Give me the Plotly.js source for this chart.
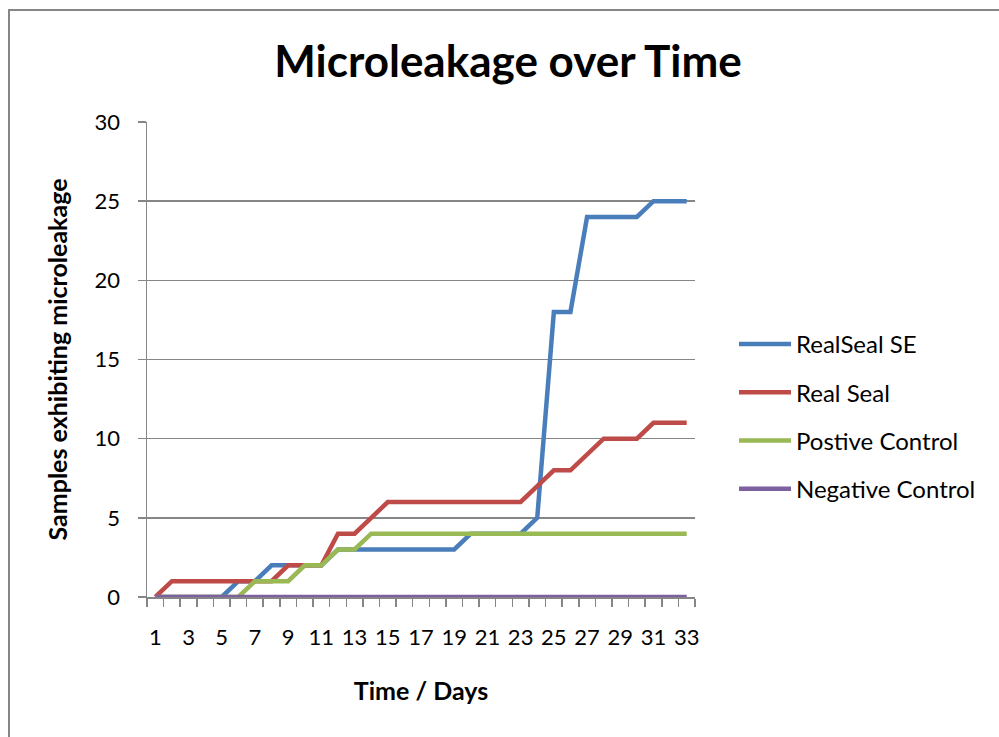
<!DOCTYPE html>
<html>
<head>
<meta charset="utf-8">
<script src="https://cdn.plot.ly/plotly-3.0.1.min.js"></script>
<style>
html, body { margin:0; padding:0; width:999px; height:737px; overflow:hidden; background:#fff; }
#frame { position:absolute; left:8px; top:9px; width:1100px; height:900px; border:2px solid #868686; box-sizing:border-box; }
#chart { position:absolute; left:0; top:0; width:999px; height:737px; }
</style>
</head>
<body>
<div id="frame"></div>
<div id="chart"></div>
<script>
const days = [1,2,3,4,5,6,7,8,9,10,11,12,13,14,15,16,17,18,19,20,21,22,23,24,25,26,27,28,29,30,31,32,33];
const realSealSE = [0,0,0,0,0,1,1,2,2,2,2,3,3,3,3,3,3,3,3,4,4,4,4,5,18,18,24,24,24,24,25,25,25];
const realSeal   = [0,1,1,1,1,1,1,1,2,2,2,4,4,5,6,6,6,6,6,6,6,6,6,7,8,8,9,10,10,10,11,11,11];
const postiveControl = [0,0,0,0,0,0,1,1,1,2,2,3,3,4,4,4,4,4,4,4,4,4,4,4,4,4,4,4,4,4,4,4,4];
const negativeControl = [0,0,0,0,0,0,0,0,0,0,0,0,0,0,0,0,0,0,0,0,0,0,0,0,0,0,0,0,0,0,0,0,0];
const seriesNames = ["RealSeal SE","Real Seal","Postive Control","Negative Control"];
const seriesColors = ["#4A7EBB","#BE4B48","#98B954","#7D60A0"];
const xTickLabels = ["1","3","5","7","9","11","13","15","17","19","21","23","25","27","29","31","33"];

const allSeries = [realSealSE, realSeal, postiveControl, negativeControl];
const traces = allSeries.map((vals, i) => ({
  x: days, y: vals, type: 'scatter', mode: 'lines', name: seriesNames[i],
  legendgroup: 'g' + i,
  line: { color: seriesColors[i], width: 4.5 },
  cliponaxis: false
}));

const FONT = 'Lato, "Open Sans", sans-serif';
const layout = {
  width: 999, height: 737,
  paper_bgcolor: 'rgba(0,0,0,0)', plot_bgcolor: 'rgba(0,0,0,0)',
  margin: { l: 147, r: 304, t: 122, b: 140 },
  font: { family: FONT, size: 22, color: '#000' },
  title: { text: '<b>Microleakage over Time</b>', font: { family: FONT, size: 44, color: '#000' }, x: 508/999, xanchor: 'center', y: 1 - 62/737, yanchor: 'middle' },
  xaxis: {
    range: [0.5, 33.5], autorange: false,
    tickmode: 'array', tickvals: xTickLabels.map(Number), ticktext: xTickLabels,
    ticks: '', ticklabelstandoff: 20,
    minor: { tick0: 0.5, dtick: 1, ticks: 'outside', ticklen: 8, tickcolor: '#868686', tickwidth: 1.5, showgrid: false },
    showline: true, linecolor: '#868686', linewidth: 1.5,
    showgrid: false, zeroline: false,
    tickfont: { size: 22 },
    title: { text: '<b>Time / Days</b>', font: { size: 25 }, standoff: 33 }
  },
  yaxis: {
    range: [0, 30], autorange: false, dtick: 5, tick0: 0,
    ticks: 'outside', ticklen: 8, tickcolor: '#868686', tickwidth: 1.5,
    showline: true, linecolor: '#868686', linewidth: 1.5,
    showgrid: true, gridcolor: '#868686', gridwidth: 1.5, zeroline: false,
    ticklabelstandoff: 13,
    tickfont: { size: 22 },
    title: { text: '<b>Samples exhibiting microleakage</b>', font: { size: 25 }, standoff: 20 }
  },
  legend: {
    x: (734-147)/548, xanchor: 'left', y: 0.579, yanchor: 'top',
    font: { size: 24 }, tracegroupgap: 14, itemwidth: 52,
    bgcolor: 'rgba(0,0,0,0)'
  },
  showlegend: true
};

Plotly.newPlot('chart', traces, layout, { displayModeBar: false, staticPlot: true });
</script>
</body>
</html>
